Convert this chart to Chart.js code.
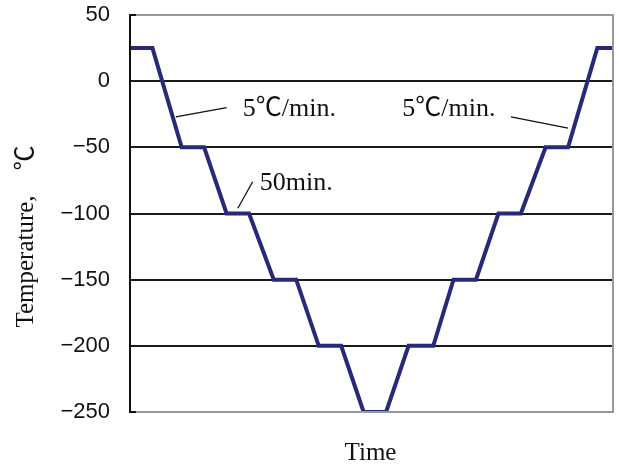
<!DOCTYPE html>
<html>
<head>
<meta charset="utf-8">
<script src="https://cdn.jsdelivr.net/npm/chart.js@4.4.1/dist/chart.umd.min.js"></script>
<style>
  html, body { margin: 0; padding: 0; background: #fff; }
  #wrap { width: 619px; height: 468px; }
</style>
</head>
<body>
<div id="wrap"><canvas id="profileChart"></canvas></div>
<script>
// time in minutes (plateaus ~50 min)
const times = [0, 50, 115, 165, 215, 265, 320, 370, 420, 470, 520, 570,
               620, 675, 720, 770, 820, 870, 925, 975, 1040, 1075];
const temps = [25, 25, -50, -50, -100, -100, -150, -150, -200, -200, -250, -250,
               -200, -200, -150, -150, -100, -100, -50, -50, 25, 25];
const yTicks = [50, 0, -50, -100, -150, -200, -250];

// callouts: text anchor and leader line, in data units
const labelTexts = ['5\u2103/min.', '50min.', '5\u2103/min.'];
const labelAt = [[251, -21], [289, -77], [606, -21]];
const leaderFrom = [[102, -27], [240, -96], [848, -27]];
const leaderTo = [[215, -20], [273, -76], [975, -35.5]];

const serif = '"Liberation Serif", "Noto Sans CJK JP", "Times New Roman", serif';

const extras = {
  id: 'extras',
  afterDatasetsDraw(chart) {
    const { ctx, chartArea: a, scales: { x, y } } = chart;
    ctx.save();
    // leader lines + callout text
    ctx.strokeStyle = '#111';
    ctx.lineWidth = 1.3;
    ctx.fillStyle = '#111';
    ctx.font = '26px ' + serif;
    ctx.textBaseline = 'middle';
    labelTexts.forEach((t, i) => {
      ctx.beginPath();
      ctx.moveTo(x.getPixelForValue(leaderFrom[i][0]), y.getPixelForValue(leaderFrom[i][1]));
      ctx.lineTo(x.getPixelForValue(leaderTo[i][0]), y.getPixelForValue(leaderTo[i][1]));
      ctx.stroke();
      ctx.fillText(t, x.getPixelForValue(labelAt[i][0]), y.getPixelForValue(labelAt[i][1]));
    });
    // frame: grey top/right/bottom, black left axis
    ctx.strokeStyle = '#999';
    ctx.lineWidth = 2;
    ctx.beginPath();
    ctx.moveTo(a.left, a.top);
    ctx.lineTo(a.right, a.top);
    ctx.lineTo(a.right, a.bottom);
    ctx.lineTo(a.left, a.bottom);
    ctx.stroke();
    ctx.strokeStyle = '#111';
    ctx.beginPath();
    ctx.moveTo(a.left, a.top - 1);
    ctx.lineTo(a.left, a.bottom + 1);
    ctx.moveTo(a.left, a.top);
    ctx.lineTo(a.left + 6, a.top);
    ctx.moveTo(a.left, a.bottom);
    ctx.lineTo(a.left + 6, a.bottom);
    ctx.stroke();
    // axis titles
    ctx.font = '25px ' + serif;
    ctx.textAlign = 'center';
    ctx.fillText('Time', (a.left + a.right) / 2 - 1, a.bottom + 41);
    ctx.translate(26, (a.top + a.bottom) / 2 + 23);
    ctx.rotate(-Math.PI / 2);
    ctx.fillText('Temperature,\u2003\u2103', 0, 0);
    ctx.restore();
  }
};

new Chart(document.getElementById('profileChart'), {
  type: 'line',
  data: {
    datasets: [{
      data: times.map((t, i) => ({ x: t, y: temps[i] })),
      borderColor: '#262a78',
      borderWidth: 4,
      pointRadius: 0,
      tension: 0,
      fill: false
    }]
  },
  options: {
    responsive: true,
    maintainAspectRatio: false,
    animation: false,
    layout: { padding: { left: 0, right: 6, top: 15, bottom: 56 } },
    plugins: { legend: { display: false }, tooltip: { enabled: false } },
    scales: {
      x: {
        type: 'linear',
        min: 0,
        max: 1075,
        display: false
      },
      y: {
        min: -250,
        max: 50,
        afterBuildTicks: s => { s.ticks = yTicks.map(v => ({ value: v })); },
        afterFit: s => { s.width = 130; s.paddingTop = 0; s.paddingBottom = 0; },
        border: { display: false },
        grid: {
          drawTicks: false,
          lineWidth: 2,
          color: c => (c.tick && (c.tick.value === 50 || c.tick.value === -250)) ? 'rgba(0,0,0,0)' : '#1a1a1a'
        },
        ticks: {
          padding: 20,
          color: '#111',
          font: { family: '"Liberation Sans", Arial, sans-serif', size: 22 },
          callback: v => (v < 0 ? '\u2212' + Math.abs(v) : String(v))
        }
      }
    }
  },
  plugins: [extras]
});
</script>
</body>
</html>
